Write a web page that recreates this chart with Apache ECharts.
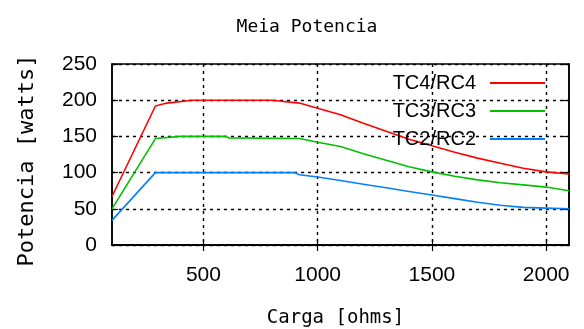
<!DOCTYPE html>
<html>
<head>
<meta charset="utf-8">
<script src="https://cdn.jsdelivr.net/npm/echarts@6/dist/echarts.min.js"></script>
<style>html,body{margin:0;padding:0;background:#fff}#c{width:584px;height:329px}</style>
</head>
<body>
<div id="c"></div>
<script>
const title = 'Meia Potencia';
const xName = 'Carga [ohms]';
const yName = 'Potencia [watts]';
const xTicks = [500, 1000, 1500, 2000];
const yTicks = [0, 50, 100, 150, 200, 250];
const seriesNames = ['TC4/RC4', 'TC3/RC3', 'TC2/RC2'];

const redX = [100, 290, 340, 450, 800, 920, 1000, 1100, 1200, 1300, 1400, 1500, 1600, 1700, 1800, 1900, 2000, 2100];
const redY = [67, 192, 196, 200, 200, 196, 189, 180, 168, 157, 146, 137, 128, 120, 113, 106, 101, 98];

const greenX = [100, 290, 400, 600, 610, 920, 1000, 1100, 1200, 1300, 1400, 1500, 1600, 1700, 1800, 1900, 2000, 2100];
const greenY = [50, 147, 150, 150, 148, 147, 142, 136, 126, 117, 108, 101, 95, 90, 86, 83, 80, 75];

const blueX = [100, 290, 900, 920, 1000, 1100, 1200, 1300, 1400, 1500, 1600, 1700, 1800, 1900, 2000, 2100];
const blueY = [34, 100, 100, 97, 94, 89, 84, 79, 74, 69, 64, 59, 55, 52, 51, 50];

const colors = ['#ff0000', '#00c000', '#0080ff'];
const pair = (xs, ys) => xs.map((x, i) => [x, ys[i]]);
const seriesData = [pair(redX, redY), pair(greenX, greenY), pair(blueX, blueY)];

const chart = echarts.init(document.getElementById('c'), null, {renderer: 'canvas'});
const dotted = {show: true, lineStyle: {color: '#000', type: [3, 4], width: 1.4}};
const option = {
  animation: false,
  backgroundColor: '#fff',
  title: {
    text: title, left: 302, top: 13, textAlign: 'center',
    textStyle: {fontFamily: 'DejaVu Sans Mono', fontSize: 18, fontWeight: 'normal', color: '#000'}
  },
  legend: {
    orient: 'vertical', right: 34, top: 68, align: 'right',
    itemWidth: 55, itemHeight: 2, itemGap: 8, icon: 'rect',
    textStyle: {fontFamily: 'Liberation Sans', fontSize: 20, lineHeight: 20, color: '#000', padding: [0, 9, 0, 0]},
    data: seriesNames
  },
  grid: {left: 112, right: 15, top: 64, bottom: 84, containLabel: false, outerBoundsMode: 'none',
    show: true, borderColor: '#000', borderWidth: 1.5, backgroundColor: 'transparent'},
  xAxis: [{
    type: 'value', min: 100, max: 2100,
    name: xName, nameLocation: 'middle', nameGap: 64,
    nameTextStyle: {fontFamily: 'DejaVu Sans Mono', fontSize: 19, color: '#000', padding: [0, 10, 0, 0]},
    axisLine: {show: true, lineStyle: {color: '#000', width: 1.5}},
    axisTick: {show: true, inside: true, length: 6, customValues: xTicks, lineStyle: {color: '#000', width: 1.2}},
    axisLabel: {customValues: xTicks, formatter: v => String(v), fontFamily: 'Liberation Sans', fontSize: 21, color: '#000', margin: 20},
    splitLine: dotted
  }, {
    type: 'value', min: 100, max: 2100, position: 'top',
    axisLine: {show: true, lineStyle: {color: '#000', width: 1.5}},
    axisTick: {show: true, inside: true, length: 6, customValues: xTicks, lineStyle: {color: '#000', width: 1.2}},
    axisLabel: {show: false, customValues: xTicks},
    splitLine: {show: false}
  }],
  yAxis: [{
    type: 'value', min: 0, max: 250, interval: 50,
    name: yName, nameLocation: 'middle', nameGap: 74, nameRotate: 90,
    nameTextStyle: {fontFamily: 'DejaVu Sans Mono', fontSize: 22, color: '#000', padding: [0, 12, 0, 0]},
    axisLine: {show: true, lineStyle: {color: '#000', width: 1.5}},
    axisTick: {show: true, inside: true, length: 6, lineStyle: {color: '#000', width: 1.2}},
    axisLabel: {fontFamily: 'Liberation Sans', fontSize: 21, color: '#000', margin: 15},
    splitLine: dotted
  }, {
    type: 'value', min: 0, max: 250, interval: 50, position: 'right',
    axisLine: {show: true, lineStyle: {color: '#000', width: 1.5}},
    axisTick: {show: true, inside: true, length: 6, lineStyle: {color: '#000', width: 1.2}},
    axisLabel: {show: false},
    splitLine: {show: false}
  }],
  series: seriesNames.map((n, i) => ({
    name: n, type: 'line', data: seriesData[i], showSymbol: false, symbol: 'none',
    color: colors[i], lineStyle: {color: colors[i], width: 1.6}, clip: true, z: 3
  }))
};
chart.setOption(option);
</script>
</body>
</html>
